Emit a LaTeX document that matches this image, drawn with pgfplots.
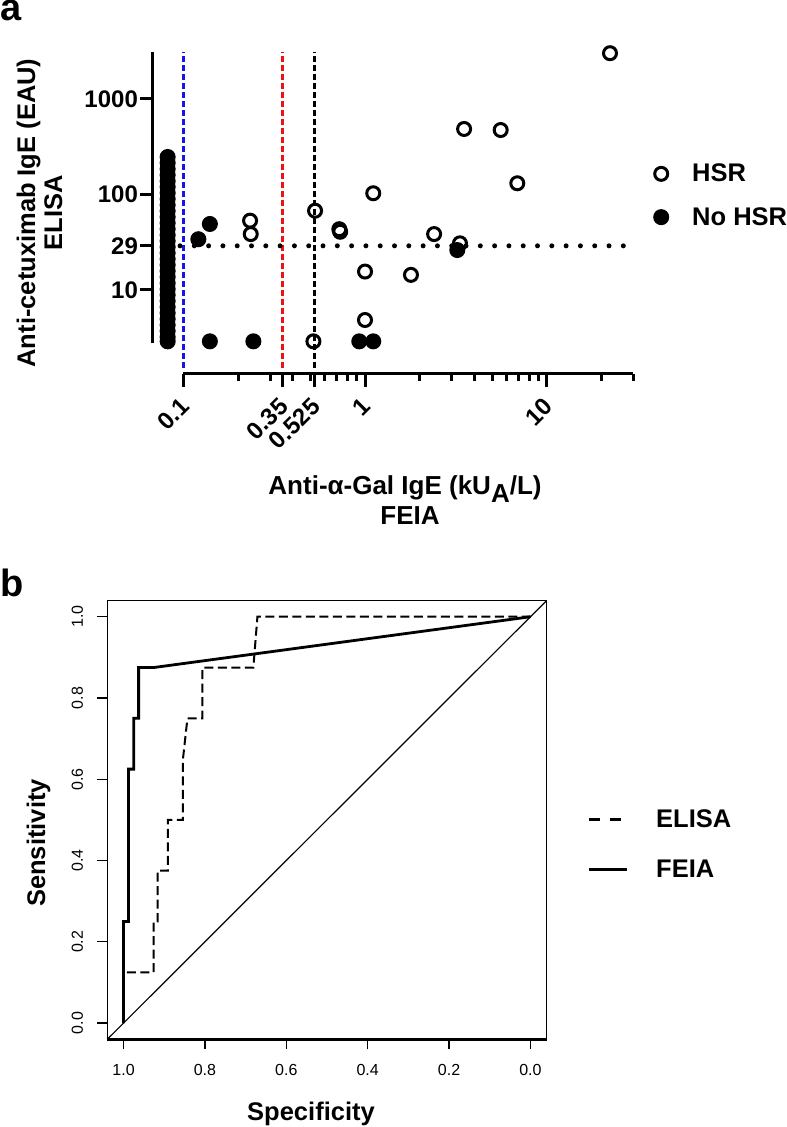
\documentclass[border=0pt]{standalone}
\usepackage{pgfplots}
\pgfplotsset{compat=1.18}
\usepackage{fontspec}
\setmainfont{Liberation Sans}
\newcommand{\fs}[1]{\fontsize{#1}{#1}\selectfont}

\begin{document}
\begin{tikzpicture}
\path[use as bounding box] (0pt,0pt) rectangle (787pt,1127pt);

% ---------------- panel a ----------------
\begin{axis}[
  at={(153pt,753pt)}, anchor=south west,
  scale only axis, width=480.4pt, height=322.3pt,
  xmode=log, ymode=log,
  xmin=0.0681, xmax=30, ymin=1.32, ymax=3126,
  axis x line*=bottom, axis y line*=left,
  axis line style={draw=none},
  clip=false,
  xtick={0.1,0.35,0.525,1,10},
  xticklabels={0.1,0.35,0.525,1,10},
  minor xtick={0.2,0.3,0.4,0.5,0.6,0.7,0.8,0.9,2,3,4,5,6,7,8,9,20,30},
  ytick={10,29,100,1000},
  yticklabels={10,29,100,1000},
  minor ytick={},
  tick align=outside,
  major tick length=13pt, minor tick length=7pt,
  every tick/.append style={black, line width=3pt},
  yticklabel style={font=\fs{24}\bfseries, inner sep=2pt},
  xticklabel style={font=\fs{24}\bfseries, xshift=3pt, yshift=-14pt, rotate=45, anchor=east, inner sep=2pt},
  legend style={draw=none, fill=none, at={(axis description cs:1.0408,0.5538)}, anchor=west,
    font=\fs{25.5}\bfseries, inner sep=0pt, nodes={inner sep=0pt}, row sep=24pt, column sep=23pt},
  legend cell align=left,
]
% axis lines
\draw[line width=3pt] (axis cs:0.0681,2.77) -- (axis cs:0.0681,3126);
\draw[line width=3pt] (axis cs:0.1,1.32) -- (axis cs:30,1.32);

% reference lines
\addplot[forget plot, color={rgb,255:red,20;green,20;blue,235}, line width=3pt, dash pattern=on 6pt off 3pt] coordinates {(0.1,1.52) (0.1,3126)};
\addplot[forget plot, color={rgb,255:red,235;green,20;blue,20}, line width=3pt, dash pattern=on 6pt off 3pt] coordinates {(0.35,1.52) (0.35,3126)};
\addplot[forget plot, black, line width=3pt, dash pattern=on 6pt off 3pt] coordinates {(0.525,1.52) (0.525,3126)};
\addplot[forget plot, black, line width=5pt, line cap=round, dash pattern=on 0pt off 14.3pt] coordinates {(0.0959,29) (28,29)};

% HSR (open)
\addplot[only marks, mark=o, mark size=6.5pt, mark options={draw=black, line width=3pt, fill=none},
  legend image code/.code={\draw[black, line width=3pt] (0pt,0pt) circle (6.5pt);}] coordinates {
(0.233,53.2) (0.235,38.5) (0.531,67.6) (0.52,2.9) (0.722,43.3) (0.73,40.7)
(1.11,103) (1.0,15.6) (1.0,4.85) (22.3,3013) (3.51,485) (5.58,473)
(6.89,131) (2.40,38.5) (3.33,30.8) (1.79,14.4)
};
\addlegendentry{HSR}

% No HSR (filled)
\addplot[only marks, mark=*, mark size=6.5pt, mark options={draw=black, line width=3pt, fill=black},
  legend image code/.code={\draw[black, fill=black, line width=3pt] (0pt,0pt) circle (6.5pt);}] coordinates {
(0.082,247) (0.082,214) (0.082,185) (0.082,160) (0.082,138) (0.082,120)
(0.082,104) (0.082,89.8) (0.082,77.6) (0.082,67.2) (0.082,58.1) (0.082,50.3)
(0.082,43.5) (0.082,37.6) (0.082,32.6) (0.082,28.2) (0.082,24.4) (0.082,21.1)
(0.082,18.3) (0.082,15.8) (0.082,13.7) (0.082,11.8) (0.082,10.2) (0.082,8.87)
(0.082,7.67) (0.082,6.64) (0.082,5.74) (0.082,4.97) (0.082,4.30) (0.082,3.72)
(0.082,3.22) (0.082,2.9)
(0.140,49.1) (0.121,34.0) (0.140,2.9) (0.243,2.9) (0.930,2.9) (1.11,2.9) (3.22,26.2)
};
\addlegendentry{No HSR}
\end{axis}

\node[anchor=base west, inner sep=0pt, font=\fs{38}\bfseries] at (0pt,1106pt) {a};
\node[rotate=90, anchor=base, inner sep=0pt, font=\fs{25.5}\bfseries] at (35pt,914pt) {Anti-cetuximab IgE (EAU)};
\node[rotate=90, anchor=base, inner sep=0pt, font=\fs{25.5}\bfseries] at (62pt,914pt) {ELISA};
\node[anchor=base, inner sep=0pt, font=\fs{26}\bfseries] at (405pt,632pt) {Anti-α-Gal IgE (kU{\raisebox{-0.3em}{A}}/L)};
\node[anchor=base, inner sep=0pt, font=\fs{26}\bfseries] at (410pt,602pt) {FEIA};

% ---------------- panel b ----------------
\begin{axis}[
  at={(107.3pt,87.7pt)}, anchor=south west,
  scale only axis, width=439.4pt, height=438.8pt,
  xmin=-0.04, xmax=1.04, ymin=-0.04, ymax=1.04, x dir=reverse,
  axis line style={line width=1.2pt},
  clip=false,
  xtick={0,0.2,0.4,0.6,0.8,1}, ytick={0,0.2,0.4,0.6,0.8,1},
  tick pos=left, tick align=outside, major tick length=10pt,
  every tick/.append style={black, line width=1.2pt},
  /pgf/number format/assume math mode=true,
  /pgf/number format/fixed, /pgf/number format/fixed zerofill, /pgf/number format/precision=1,
  xticklabel style={font=\fs{16}, inner sep=2pt, yshift=-13pt},
  yticklabel style={font=\fs{16}, rotate=90, anchor=south, inner sep=14pt},
  legend style={draw=none, fill=none, at={(axis description cs:1.0917,0.445)}, anchor=west,
    font=\fs{25.5}\bfseries, inner sep=0pt, nodes={inner sep=0pt}, row sep=31pt, column sep=28pt},
  legend cell align=left,
]
\draw[line width=3pt] (rel axis cs:0,0) -- (rel axis cs:1,0);
\addplot[forget plot, black, line width=1.2pt] coordinates {(1.04,-0.04) (-0.04,1.04)};
\addplot[black, line width=2pt, dash pattern=on 9pt off 4.5pt,
  legend image code/.code={\draw[black, line width=3pt, dash pattern=on 11pt off 10pt] (0pt,0pt) -- (33pt,0pt);}] coordinates {
(1,0) (1,0.125) (0.926,0.125) (0.926,0.25) (0.916,0.25) (0.916,0.375) (0.891,0.375)
(0.891,0.5) (0.854,0.5) (0.854,0.65) (0.843,0.75) (0.806,0.75) (0.806,0.875)
(0.681,0.875) (0.671,1) (0,1)
};
\addlegendentry{ELISA}
\addplot[black, line width=2.8pt,
  legend image code/.code={\draw[black, line width=3pt] (0pt,0pt) -- (38pt,0pt);}] coordinates {
(1,0) (1,0.25) (0.988,0.25) (0.988,0.625) (0.975,0.625) (0.975,0.75) (0.963,0.75)
(0.963,0.875) (0.926,0.875) (0,1)
};
\addlegendentry{FEIA}
\end{axis}

\node[anchor=base west, inner sep=0pt, font=\fs{38}\bfseries] at (0pt,530pt) {b};
\node[rotate=90, anchor=base, inner sep=0pt, font=\fs{25.5}\bfseries] at (45pt,284pt) {Sensitivity};
\node[anchor=base, inner sep=0pt, font=\fs{25.5}\bfseries] at (311pt,6pt) {Specificity};
\end{tikzpicture}
\end{document}
